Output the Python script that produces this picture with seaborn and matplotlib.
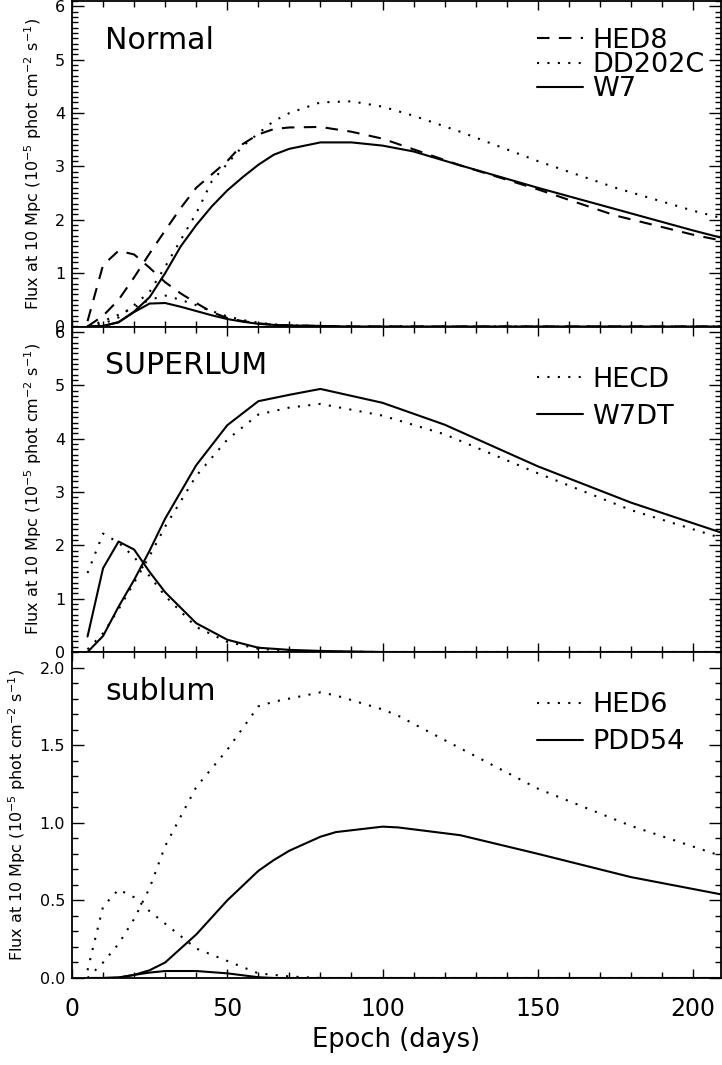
import numpy as np
import pandas as pd
import matplotlib
matplotlib.use("Agg")
import matplotlib.pyplot as plt
from matplotlib.ticker import MultipleLocator
import seaborn as sns

# ---------------- data ----------------
t_top = [5, 10, 15, 20, 25, 30, 35, 40, 45, 50, 55, 60, 65, 70, 80, 90, 100, 110, 125, 150, 175, 200, 210]
hed8_early = [0.1, 1.15, 1.42, 1.35, 1.1, 0.83, 0.62, 0.44, 0.27, 0.16, 0.1, 0.06, 0.03, 0.02, 0.01, 0, 0, 0, 0, 0, 0, 0, 0]
hed8_late = [0.0, 0.2, 0.5, 0.92, 1.37, 1.8, 2.22, 2.6, 2.85, 3.1, 3.42, 3.6, 3.7, 3.73, 3.74, 3.65, 3.52, 3.32, 3.02, 2.57, 2.08, 1.72, 1.6]
dd202c_early = [0.0, 0.1, 0.22, 0.36, 0.5, 0.58, 0.5, 0.4, 0.29, 0.19, 0.12, 0.07, 0.04, 0.02, 0.01, 0, 0, 0, 0, 0, 0, 0, 0]
dd202c_late = [0.0, 0.05, 0.17, 0.4, 0.65, 1.12, 1.62, 2.12, 2.72, 3.05, 3.38, 3.62, 3.85, 4.0, 4.2, 4.22, 4.12, 3.95, 3.65, 3.1, 2.6, 2.17, 2.02]
w7_early = [0.0, 0.01, 0.08, 0.27, 0.43, 0.44, 0.37, 0.29, 0.21, 0.14, 0.09, 0.05, 0.03, 0.02, 0.01, 0, 0, 0, 0, 0, 0, 0, 0]
w7_late = [0.0, 0.01, 0.08, 0.28, 0.55, 1.0, 1.5, 1.9, 2.25, 2.55, 2.8, 3.03, 3.22, 3.33, 3.45, 3.45, 3.39, 3.28, 3.02, 2.6, 2.2, 1.8, 1.65]

t_mid = [5, 10, 15, 20, 25, 30, 40, 50, 60, 70, 80, 100, 120, 150, 180, 210]
hecd_early = [1.48, 2.22, 2.05, 1.78, 1.42, 1.05, 0.47, 0.19, 0.06, 0.02, 0.01, 0, 0, 0, 0, 0]
hecd_late = [0.05, 0.35, 0.8, 1.3, 1.8, 2.35, 3.3, 3.98, 4.45, 4.58, 4.65, 4.43, 4.08, 3.35, 2.66, 2.12]
w7dt_early = [0.29, 1.57, 2.07, 1.92, 1.5, 1.12, 0.54, 0.23, 0.08, 0.04, 0.02, 0, 0, 0, 0, 0]
w7dt_late = [0.0, 0.3, 0.85, 1.35, 1.9, 2.5, 3.5, 4.25, 4.7, 4.82, 4.93, 4.67, 4.26, 3.48, 2.8, 2.22]

t_bot = [5, 10, 15, 20, 25, 30, 40, 50, 60, 65, 70, 80, 85, 100, 105, 125, 150, 180, 210]
hed6_early = [0.05, 0.46, 0.57, 0.52, 0.43, 0.35, 0.19, 0.11, 0.03, 0.02, 0.01, 0, 0, 0, 0, 0, 0, 0, 0]
hed6_late = [0.0, 0.1, 0.22, 0.38, 0.58, 0.85, 1.23, 1.47, 1.75, 1.78, 1.8, 1.84, 1.82, 1.73, 1.69, 1.48, 1.22, 0.98, 0.78]
pdd54_early = [0, 0, 0.003, 0.02, 0.035, 0.045, 0.045, 0.03, 0.005, 0, 0, 0, 0, 0, 0, 0, 0, 0, 0]
pdd54_late = [0, 0, 0.003, 0.02, 0.05, 0.1, 0.28, 0.5, 0.69, 0.76, 0.82, 0.91, 0.94, 0.975, 0.97, 0.92, 0.8, 0.65, 0.535]

panel_titles = ["Normal", "SUPERLUM", "sublum"]
xlabel = "Epoch (days)"
ylabel = r"Flux at 10 Mpc (10$^{-5}$ phot cm$^{-2}$ s$^{-1}$)"

# ---------------- style ----------------
sns.set_style("ticks", {"xtick.direction": "in", "ytick.direction": "in"})
plt.rcParams["font.family"] = ["DejaVu Sans"]
plt.rcParams["mathtext.fontset"] = "dejavusans"
plt.rcParams["axes.linewidth"] = 1.3
plt.rcParams["axes.edgecolor"] = "black"
plt.rcParams["text.color"] = "black"
plt.rcParams["axes.labelcolor"] = "black"
plt.rcParams["xtick.color"] = "black"
plt.rcParams["ytick.color"] = "black"

DASH = (0, (6, 4.5))
DOT = (0, (1, 4))
LW = 1.5

fig = plt.figure(figsize=(7.22, 10.65), dpi=100)
H = 1065.0
W = 722.0
left = 72 / W
width = 649 / W
bounds = [(1, 326.5), (326.5, 652), (652, 978)]
axes = []
for (ytop, ybot) in bounds:
    ax = fig.add_axes([left, 1 - ybot / H, width, (ybot - ytop) / H])
    axes.append(ax)

panels = [
    (t_top, [(hed8_early, hed8_late, DASH, "HED8"),
             (dd202c_early, dd202c_late, DOT, "DD202C"),
             (w7_early, w7_late, "-", "W7")]),
    (t_mid, [(hecd_early, hecd_late, DOT, "HECD"),
             (w7dt_early, w7dt_late, "-", "W7DT")]),
    (t_bot, [(hed6_early, hed6_late, DOT, "HED6"),
             (pdd54_early, pdd54_late, "-", "PDD54")]),
]

leg_spacing = [-0.06, 0.42, 0.42]
leg_top = [0.918, 0.877, 0.877]

for i, (ax, (tt, series)) in enumerate(zip(axes, panels)):
    handles = []
    for early, late, ls, name in series:
        df = pd.DataFrame({"t": tt, "early": early, "late": late})
        sns.lineplot(data=df, x="t", y="early", ax=ax, color="black", lw=LW,
                     linestyle=ls, sort=False, legend=False)
        sns.lineplot(data=df, x="t", y="late", ax=ax, color="black", lw=LW,
                     linestyle=ls, sort=False, legend=False)
        handles.append(ax.lines[-1])
    labels = [s[3] for s in series]
    leg = ax.legend(handles, labels, loc="upper left", bbox_to_anchor=(0.717, leg_top[i]),
                    frameon=False, fontsize=19.5, handlelength=1.67, handletextpad=0.37,
                    labelspacing=leg_spacing[i], borderpad=0, borderaxespad=0)
    for txt in leg.get_texts():
        txt.set_color("black")

    ax.set_xlim(0, 209)
    if i < 2:
        ax.set_ylim(0, 6.1)
        ax.yaxis.set_major_locator(MultipleLocator(1))
        ax.yaxis.set_minor_locator(MultipleLocator(0.1))
    else:
        ax.set_ylim(0, 2.1)
        ax.yaxis.set_major_locator(MultipleLocator(0.5))
        ax.yaxis.set_minor_locator(MultipleLocator(0.1))
        ax.yaxis.set_major_formatter(matplotlib.ticker.FormatStrFormatter("%.1f"))
    ax.xaxis.set_major_locator(MultipleLocator(50))
    ax.xaxis.set_minor_locator(MultipleLocator(10))
    ax.tick_params(axis="both", which="both", direction="in", top=True, right=True,
                   colors="black", labelcolor="black", width=1.0)
    ax.tick_params(axis="y", which="major", length=8.5, labelsize=11.5, pad=5)
    ax.tick_params(axis="y", which="minor", length=4.3)
    ax.tick_params(axis="x", which="major", length=6.5, labelsize=17, pad=14)
    ax.tick_params(axis="x", which="minor", length=4.0)
    if i < 2:
        ax.tick_params(axis="x", labelbottom=False)
        ax.set_xlabel("")
    else:
        ax.set_xlabel(xlabel, fontsize=18.5, labelpad=4, color="black")
    ax.set_ylabel(ylabel, fontsize=11.5, labelpad=8, color="black")
    ax.text(0.0508, 1 - 48 / 325.5, panel_titles[i], transform=ax.transAxes,
            fontsize=21.6, va="baseline", ha="left", color="black")
    for sp in ax.spines.values():
        sp.set_visible(True)
        sp.set_linewidth(1.3)
        sp.set_color("black")

fig.savefig("out.png", dpi=100)
